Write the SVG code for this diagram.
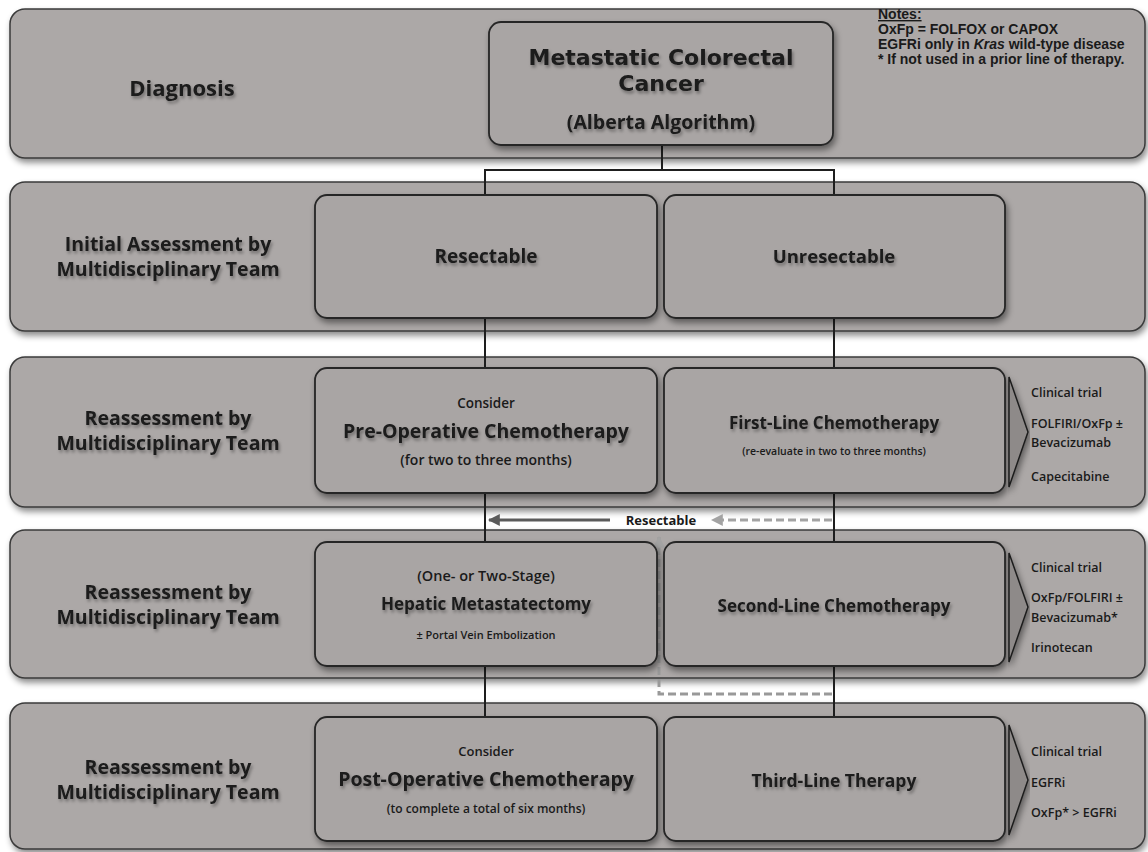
<svg xmlns="http://www.w3.org/2000/svg" width="1148" height="852" viewBox="0 0 1148 852">
<defs>
<filter id="sh" x="-5%" y="-10%" width="115%" height="130%">
<feDropShadow dx="2" dy="4" stdDeviation="3" flood-color="#000" flood-opacity="0.45"/>
</filter>
<filter id="tsh" x="-10%" y="-30%" width="130%" height="170%">
<feDropShadow dx="1.5" dy="2.5" stdDeviation="1.5" flood-color="#000" flood-opacity="0.35"/>
</filter>
<marker id="ah" viewBox="0 0 10 10" refX="9" refY="5" markerWidth="4" markerHeight="4" orient="auto" markerUnits="strokeWidth">
<path d="M0,0 L10,5 L0,10 Z" fill="#5a5a5a"/>
</marker>
<marker id="ahd" viewBox="0 0 10 10" refX="9" refY="5" markerWidth="4" markerHeight="4" orient="auto" markerUnits="strokeWidth">
<path d="M0,0 L10,5 L0,10 Z" fill="#a3a3a3"/>
</marker>
<style>
.band{fill:#aca8a7;stroke:#3a3a3a;stroke-width:1.5;filter:url(#sh)}
.node{fill:#a9a5a4;stroke:#262626;stroke-width:1.8;filter:url(#sh)}
.chev{fill:#8e8a89;stroke:#1e1e1e;stroke-width:1.5;filter:url(#sh)}
text{font-family:"Open Sans","Noto Sans",sans-serif;font-weight:bold;fill:#1a1a1a}
.lbl{font-size:19.5px;text-anchor:middle;filter:url(#tsh)}
.big{font-family:"DejaVu Sans",sans-serif;font-size:22px;text-anchor:middle;filter:url(#tsh)}
.mid{font-size:17px;text-anchor:middle;filter:url(#tsh)}
.sm{font-size:13px;text-anchor:middle;font-weight:600}
.lst{font-size:12.5px;font-weight:600}
.note{font-family:"Liberation Sans",Arial,sans-serif;font-size:14px;font-weight:bold}
.conn{fill:none;stroke:#1e1e1e;stroke-width:2}
</style>
</defs>

<g id="bands">
<rect class="band" x="10" y="9" width="1135" height="149" rx="15"/>
<rect class="band" x="10" y="182" width="1135" height="149" rx="15"/>
<rect class="band" x="10" y="357" width="1135" height="150" rx="15"/>
<rect class="band" x="10" y="530" width="1135" height="148" rx="15"/>
<rect class="band" x="10" y="703" width="1135" height="146" rx="15"/>
</g>

<g id="row-labels">
<text class="lbl" x="182" y="96" style="font-size:22px">Diagnosis</text>
<text class="lbl" x="168" y="251">Initial Assessment by</text>
<text class="lbl" x="168" y="276">Multidisciplinary Team</text>
<text class="lbl" x="168" y="425">Reassessment by</text>
<text class="lbl" x="168" y="450">Multidisciplinary Team</text>
<text class="lbl" x="168" y="599">Reassessment by</text>
<text class="lbl" x="168" y="624">Multidisciplinary Team</text>
<text class="lbl" x="168" y="774">Reassessment by</text>
<text class="lbl" x="168" y="799">Multidisciplinary Team</text>
</g>

<g id="notes">
<text class="note" x="878" y="19"><tspan text-decoration="underline">Notes:</tspan><tspan x="878" dy="15">OxFp = FOLFOX or CAPOX</tspan><tspan x="878" dy="15">EGFRi only in <tspan font-style="italic">Kras</tspan> wild-type disease</tspan><tspan x="878" dy="15">* If not used in a prior line of therapy.</tspan></text>
</g>

<g id="connectors">
<path class="conn" d="M662,145 V170 M485,195 V170 H834 V195"/>
<path class="conn" d="M485,318 V368 M834,318 V368"/>
<path class="conn" d="M485,493 V542 M834,493 V542"/>
<path class="conn" d="M485,666 V717 M834,666 V717"/>
<line x1="610" y1="520" x2="489" y2="520" stroke="#5a5a5a" stroke-width="3" marker-end="url(#ah)"/>
<line x1="832" y1="520" x2="712" y2="520" stroke="#a3a3a3" stroke-width="3" stroke-dasharray="8,4" marker-end="url(#ahd)"/>
<path d="M832,694 H659 V537" fill="none" stroke="#999" stroke-width="3" stroke-dasharray="8,4" marker-end="url(#ahd)"/>
<text x="661" y="525" style="font-size:13px;text-anchor:middle">Resectable</text>
</g>

<g id="node-mcc">
<rect class="node" x="489" y="22" width="344" height="123" rx="12"/>
<text class="big" x="661" y="65">Metastatic Colorectal</text>
<text class="big" x="661" y="91">Cancer</text>
<text class="mid" x="661" y="129" style="font-size:19.5px">(Alberta Algorithm)</text>
</g>

<g id="node-resectable">
<rect class="node" x="315" y="195" width="342" height="123" rx="12"/>
<text class="mid" x="486" y="263" style="font-size:19px">Resectable</text>
</g>
<g id="node-unresectable">
<rect class="node" x="664" y="195" width="341" height="123" rx="12"/>
<text class="mid" x="834" y="263" style="font-size:18.5px">Unresectable</text>
</g>

<g id="node-preop">
<rect class="node" x="315" y="368" width="342" height="125" rx="12"/>
<text class="sm" x="486" y="408" style="font-size:13.5px">Consider</text>
<text class="mid" x="486" y="438" style="font-size:19.5px">Pre-Operative Chemotherapy</text>
<text class="sm" x="486" y="465" style="font-size:14px">(for two to three months)</text>
</g>
<g id="node-firstline">
<rect class="node" x="664" y="368" width="341" height="125" rx="12"/>
<text class="mid" x="834" y="429">First-Line Chemotherapy</text>
<text class="sm" x="834" y="455" style="font-size:10.5px">(re-evaluate in two to three months)</text>
</g>
<g id="list-firstline">
<polygon class="chev" points="1009,377 1028,432 1009,487"/>
<text class="lst" x="1031" y="397">Clinical trial</text>
<text class="lst" x="1031" y="428">FOLFIRI/OxFp ±</text>
<text class="lst" x="1031" y="447">Bevacizumab</text>
<text class="lst" x="1031" y="481">Capecitabine</text>
</g>

<g id="node-hepatic">
<rect class="node" x="315" y="542" width="342" height="124" rx="12"/>
<text class="sm" x="486" y="581" style="font-size:14.5px">(One- or Two-Stage)</text>
<text class="mid" x="486" y="610">Hepatic Metastatectomy</text>
<text class="sm" x="486" y="639" style="font-size:11px">± Portal Vein Embolization</text>
</g>
<g id="node-secondline">
<rect class="node" x="664" y="542" width="341" height="124" rx="12"/>
<text class="mid" x="834" y="612">Second-Line Chemotherapy</text>
</g>
<g id="list-secondline">
<polygon class="chev" points="1009,553 1028,607 1009,662"/>
<text class="lst" x="1031" y="572">Clinical trial</text>
<text class="lst" x="1031" y="602">OxFp/FOLFIRI ±</text>
<text class="lst" x="1031" y="622">Bevacizumab*</text>
<text class="lst" x="1031" y="652">Irinotecan</text>
</g>

<g id="node-postop">
<rect class="node" x="315" y="717" width="342" height="124" rx="12"/>
<text class="sm" x="486" y="756">Consider</text>
<text class="mid" x="486" y="786" style="font-size:19.5px">Post-Operative Chemotherapy</text>
<text class="sm" x="486" y="813" style="font-size:12px">(to complete a total of six months)</text>
</g>
<g id="node-thirdline">
<rect class="node" x="664" y="717" width="341" height="124" rx="12"/>
<text class="mid" x="834" y="787" style="font-size:17.5px">Third-Line Therapy</text>
</g>
<g id="list-thirdline">
<polygon class="chev" points="1009,725 1028,780 1009,835"/>
<text class="lst" x="1031" y="756">Clinical trial</text>
<text class="lst" x="1031" y="787">EGFRi</text>
<text class="lst" x="1031" y="817">OxFp* &gt; EGFRi</text>
</g>
</svg>
